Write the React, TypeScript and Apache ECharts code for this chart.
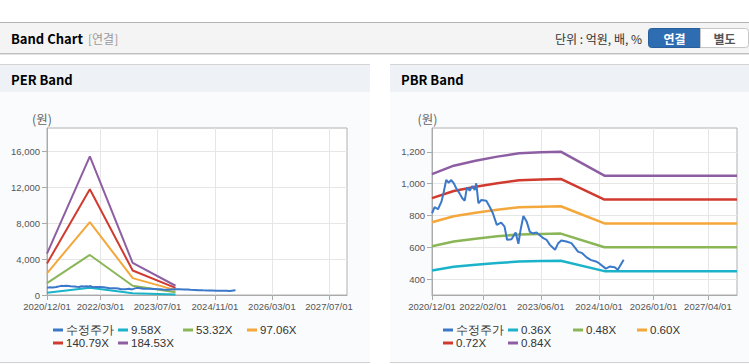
import React, { useEffect, useRef } from "react";
import * as echarts from "echarts";

// ---- data ----
const priceDates = [
  "2020-12-01", "2020-12-23", "2021-01-20", "2021-02-18", "2021-03-07", "2021-03-30",
  "2021-04-21", "2021-05-11", "2021-06-02", "2021-06-22", "2021-07-20", "2021-08-12",
  "2021-09-01", "2021-09-20", "2021-10-13", "2021-11-04", "2021-11-24", "2021-12-07",
  "2021-12-25", "2022-01-19", "2022-03-01", "2022-03-28", "2022-04-25", "2022-05-28",
  "2022-07-04", "2022-08-01", "2022-08-22", "2022-09-28", "2022-11-02", "2022-11-25",
  "2022-12-13", "2023-01-06", "2023-02-03", "2023-03-01", "2023-03-28", "2023-04-25",
  "2023-05-24", "2023-06-22", "2023-07-19", "2023-08-16", "2023-09-28", "2023-10-25",
  "2023-11-19", "2024-01-01", "2024-02-12", "2024-03-10", "2024-04-07", "2024-05-13",
  "2024-06-16", "2024-07-22", "2024-09-04", "2024-10-01", "2024-11-26", "2024-12-29",
  "2025-02-09", "2025-03-07", "2025-04-25",
];
const priceValues = [
  814, 852, 839, 887, 939, 1023,
  1006, 1023, 1002, 971, 939, 908,
  893, 977, 956, 985, 960, 1002,
  877, 897, 893, 856, 814, 741,
  755, 730, 647, 651, 693, 622,
  708, 797, 760, 697, 687, 693,
  676, 657, 647, 615, 584, 626,
  643, 636, 626, 601, 573, 563,
  538, 521, 511, 500, 466, 479,
  475, 458, 521,
];

const perBandDates = ["2020-12-01", "2021-12-01", "2022-12-01", "2023-12-01"];
const per958 = [240, 804, 186, 54];
const per5332 = [1333, 4474, 1034, 299];
const per9706 = [2427, 8143, 1883, 544];
const per14079 = [3520, 11812, 2731, 788];
const per18453 = [4613, 15482, 3580, 1033];

const pbrBandDates = [
  "2020-12-01", "2021-06-01", "2021-12-01", "2022-06-01", "2022-12-01",
  "2023-06-01", "2023-11-15", "2024-11-15", "2027-12-01",
];
const pbr036 = [454, 477, 490, 501, 510, 513, 515, 450, 450];
const pbr048 = [606, 636, 654, 669, 681, 684, 686, 600, 600];
const pbr060 = [757, 795, 817, 836, 851, 855, 858, 750, 750];
const pbr072 = [909, 954, 981, 1003, 1021, 1026, 1030, 900, 900];
const pbr084 = [1060, 1113, 1144, 1170, 1191, 1197, 1201, 1050, 1050];

const perTickLabels = ["2020-12-01", "2022-03-01", "2023-07-01", "2024-11-01", "2026-03-01", "2027-07-01"];
const pbrTickLabels = ["2020-12-01", "2022-02-01", "2023-06-01", "2024-10-01", "2026-01-01", "2027-04-01"];
const perYTicks = [0, 4000, 8000, 12000, 16000];
const pbrYTicks = [400, 600, 800, 1000, 1200];

const perNames = ["수정주가", "9.58X", "53.32X", "97.06X", "140.79X", "184.53X"];
const pbrNames = ["수정주가", "0.36X", "0.48X", "0.60X", "0.72X", "0.84X"];
const lineColors = ["#3b78c9", "#1bb3c9", "#8bb657", "#f4a73a", "#d13b2f", "#8e5ea2"];

const axisStart = "2020-12-01";
const axisEnd = "2027-12-01";

// ---- helpers ----
const LATIN = "'Liberation Sans', Arial, sans-serif";
const KR = "'Noto Sans CJK KR', 'Liberation Sans', sans-serif";

const toTs = (d: string) => {
  const [y, m, day] = d.split("-").map(Number);
  return Date.UTC(y, m - 1, day);
};
const fmtTs = (v: number) => {
  const d = new Date(v);
  const p = (n: number) => (n < 10 ? "0" + n : "" + n);
  return `${d.getUTCFullYear()}/${p(d.getUTCMonth() + 1)}/${p(d.getUTCDate())}`;
};
const zip = (d: string[], v: number[]) => d.map((x, i) => [toTs(x), v[i]]);

function buildOption() {
  const perBands = [per958, per5332, per9706, per14079, per18453];
  const pbrBands = [pbr036, pbr048, pbr060, pbr072, pbr084];

  const series: any[] = [];
  series.push({
    name: perNames[0], type: "line", xAxisIndex: 0, yAxisIndex: 0,
    data: zip(priceDates, priceValues), showSymbol: false, symbol: "none",
    lineStyle: { width: 2, color: lineColors[0] }, itemStyle: { color: lineColors[0] }, z: 4,
  });
  perBands.forEach((b, i) => {
    series.push({
      name: perNames[i + 1], type: "line", xAxisIndex: 0, yAxisIndex: 0,
      data: zip(perBandDates, b), showSymbol: false, symbol: "none",
      lineStyle: { width: 2, color: lineColors[i + 1] }, itemStyle: { color: lineColors[i + 1] }, z: 3,
    });
  });
  series.push({
    name: pbrNames[0], type: "line", xAxisIndex: 1, yAxisIndex: 1,
    data: zip(priceDates, priceValues), showSymbol: false, symbol: "none",
    lineStyle: { width: 2, color: lineColors[0] }, itemStyle: { color: lineColors[0] }, z: 4,
  });
  pbrBands.forEach((b, i) => {
    series.push({
      name: pbrNames[i + 1], type: "line", xAxisIndex: 1, yAxisIndex: 1,
      data: zip(pbrBandDates, b), showSymbol: false, symbol: "none",
      lineStyle: { width: 2.5, color: lineColors[i + 1] }, itemStyle: { color: lineColors[i + 1] }, z: 3,
    });
  });

  const xAxisCommon = (ticks: string[], gridIndex: number) => {
    const tv = ticks.map(toTs);
    return {
      type: "value",
      gridIndex,
      min: toTs(axisStart),
      max: toTs(axisEnd),
      axisLine: { show: true, onZero: false, lineStyle: { color: "#aaaaaa", width: 1 } },
      axisTick: { show: true, length: 5, lineStyle: { color: "#aaaaaa" }, customValues: tv },
      axisLabel: {
        customValues: tv,
        formatter: (v: number) => fmtTs(v),
        fontSize: 9.5, color: "#555", fontFamily: LATIN, margin: 6,
        showMinLabel: true, showMaxLabel: true,
      },
      splitLine: { show: true, lineStyle: { color: "#e6e6e6", width: 1 } },
    };
  };

  const yAxisCommon = (ticks: number[], min: number, max: number, gridIndex: number) => ({
    type: "value",
    gridIndex,
    min, max,
    axisLine: { show: true, lineStyle: { color: "#aaaaaa", width: 1 } },
    axisTick: { show: true, length: 5, lineStyle: { color: "#aaaaaa" }, customValues: ticks },
    axisLabel: {
      customValues: ticks,
      formatter: (v: number) => v.toLocaleString("en-US"),
      fontSize: 9.5, color: "#555", fontFamily: LATIN, margin: 7,
    },
    splitLine: { show: true, lineStyle: { color: "#e6e6e6", width: 1 } },
  });

  const legends: any[] = [];
  const colX = [53, 118, 183, 247];
  const rowY = [324, 337];
  const addLegends = (names: string[], offsetX: number) => {
    names.forEach((n, i) => {
      legends.push({
        data: [n],
        left: offsetX + colX[i % 4],
        top: rowY[Math.floor(i / 4)],
        icon: "rect",
        itemWidth: 10,
        itemHeight: 3,
        itemGap: 0,
        padding: 0,
        selectedMode: false,
        textStyle: { fontSize: 11.5, color: "#333", fontFamily: LATIN, padding: [0, 0, 0, -2] },
      });
    });
  };
  addLegends(perNames, 0);
  addLegends(pbrNames, 390);

  const panel = (x0: number, w: number, title: string) => [
    { type: "rect", shape: { x: x0, y: 64, width: w, height: 28 }, style: { fill: "#eef2f7" }, z: -10 },
    { type: "rect", shape: { x: x0, y: 92, width: w, height: 270 }, style: { fill: "#fafbfc" }, z: -10 },
    { type: "line", shape: { x1: x0, y1: 64.5, x2: x0 + w, y2: 64.5 }, style: { stroke: "#d4d4d4", lineWidth: 1 }, z: -9 },
    { type: "line", shape: { x1: x0, y1: 362.5, x2: x0 + w, y2: 362.5 }, style: { stroke: "#d0d0d0", lineWidth: 1 }, z: -9 },
    {
      type: "text", x: x0 + 11, y: 79, z: 10,
      style: { text: title, fill: "#000", font: `bold 13px ${KR}`, verticalAlign: "middle", align: "left" },
    },
  ];

  const graphic: any[] = [
    { type: "rect", shape: { x: 0, y: 22, width: 749, height: 31 }, style: { fill: "#f4f4f4" }, z: -10 },
    { type: "line", shape: { x1: 0, y1: 22.5, x2: 749, y2: 22.5 }, style: { stroke: "#b4b4b4", lineWidth: 1 }, z: -9 },
    { type: "line", shape: { x1: 0, y1: 53.5, x2: 749, y2: 53.5 }, style: { stroke: "#c0c0c0", lineWidth: 1 }, z: -9 },
    { type: "line", shape: { x1: 0, y1: 54.5, x2: 749, y2: 54.5 }, style: { stroke: "#e2e2e2", lineWidth: 1 }, z: -9 },
    {
      type: "text", x: 11, y: 38, z: 10,
      style: { text: "Band Chart", fill: "#000", font: `bold 13px ${KR}`, verticalAlign: "middle" },
    },
    {
      type: "text", x: 88, y: 38, z: 10,
      style: { text: "[연결]", fill: "#9a9a9a", font: `12px ${KR}`, verticalAlign: "middle" },
    },
    {
      type: "text", x: 642, y: 38, z: 10,
      style: { text: "단위 : 억원, 배, %", fill: "#333", font: `12px ${KR}`, verticalAlign: "middle", align: "right" },
    },
    {
      type: "rect", z: 5,
      shape: { x: 648.5, y: 28.5, width: 52, height: 19, r: [3, 0, 0, 3] },
      style: { fill: "#2f6db2", stroke: "#2a5f9e", lineWidth: 1 },
    },
    {
      type: "text", x: 674.5, y: 38, z: 10,
      style: { text: "연결", fill: "#ffffff", font: `bold 12px ${KR}`, verticalAlign: "middle", align: "center" },
    },
    {
      type: "rect", z: 5,
      shape: { x: 700.5, y: 28.5, width: 48, height: 19, r: [0, 3, 3, 0] },
      style: { fill: "#ffffff", stroke: "#c6c6c6", lineWidth: 1 },
    },
    {
      type: "text", x: 724.5, y: 38, z: 10,
      style: { text: "별도", fill: "#555", font: `bold 12px ${KR}`, verticalAlign: "middle", align: "center" },
    },
    ...panel(0, 370, "PER Band"),
    ...panel(390, 359, "PBR Band"),
    {
      type: "text", x: 42, y: 118, z: 10,
      style: { text: "(원)", fill: "#666", font: `12.5px ${KR}`, verticalAlign: "middle", align: "center" },
    },
    {
      type: "text", x: 427.5, y: 118, z: 10,
      style: { text: "(원)", fill: "#666", font: `12.5px ${KR}`, verticalAlign: "middle", align: "center" },
    },
  ];

  return {
    animation: false,
    textStyle: { fontFamily: LATIN },
    graphic,
    legend: legends,
    grid: [
      { left: 47, top: 128, width: 300, height: 167, show: true, backgroundColor: "#ffffff", borderColor: "#b0b0b0", borderWidth: 1, containLabel: false },
      { left: 432, top: 128, width: 305, height: 167, show: true, backgroundColor: "#ffffff", borderColor: "#b0b0b0", borderWidth: 1, containLabel: false },
    ],
    xAxis: [xAxisCommon(perTickLabels, 0), xAxisCommon(pbrTickLabels, 1)],
    yAxis: [yAxisCommon(perYTicks, 0, 18650, 0), yAxisCommon(pbrYTicks, 300, 1350, 1)],
    series,
  };
}

export default function App() {
  const ref = useRef<HTMLDivElement>(null);
  useEffect(() => {
    document.body.style.margin = "0";
    const chart = echarts.init(ref.current as HTMLDivElement, null, { renderer: "svg" });
    chart.setOption(buildOption() as any);
    return () => chart.dispose();
  }, []);
  return <div ref={ref} style={{ width: 749, height: 364 }} />;
}
